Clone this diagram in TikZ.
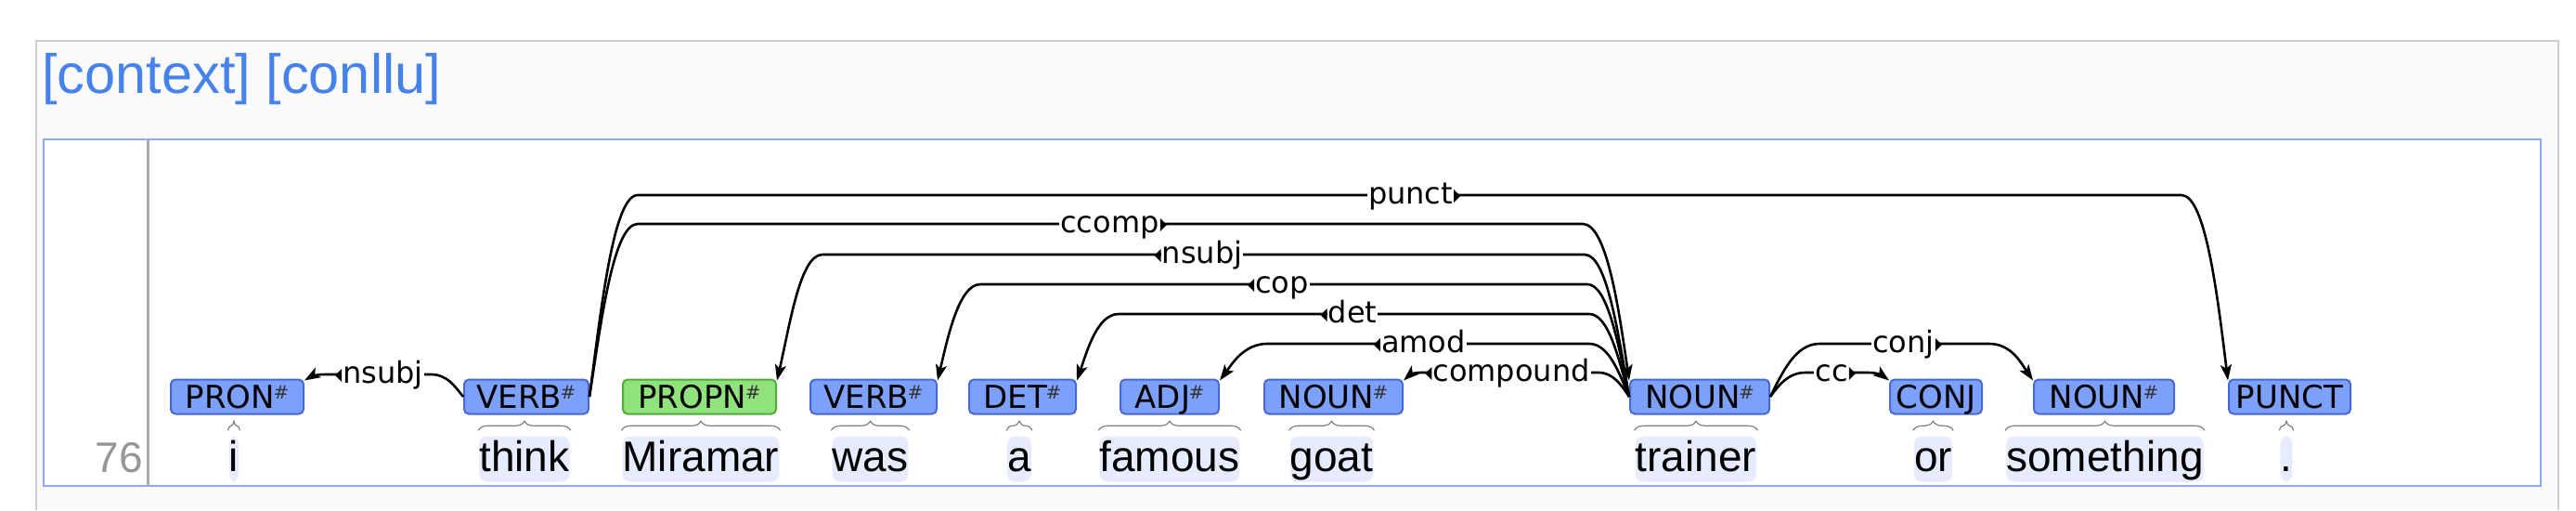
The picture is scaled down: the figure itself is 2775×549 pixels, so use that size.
\documentclass[tikz,border=0pt]{standalone}
\usepackage{fontspec}
\setmainfont{Liberation Sans}
\newfontfamily\tagfont{DejaVu Sans}
\usetikzlibrary{arrows.meta,decorations.pathreplacing}
\definecolor{tagfill}{RGB}{125,160,250}
\definecolor{tagdraw}{RGB}{70,105,215}
\definecolor{propnfill}{RGB}{143,226,124}
\definecolor{propndraw}{RGB}{80,170,60}
\definecolor{titleblue}{RGB}{70,130,235}
\definecolor{framegray}{RGB}{205,205,205}
\definecolor{frameblue}{RGB}{140,170,248}
\definecolor{wordbg}{RGB}{230,235,253}
\definecolor{numgray}{RGB}{150,150,150}
\newcommand\hsh{\kern-1.5pt{\fontsize{20}{20}\selectfont\raisebox{10pt}{\textcolor{black!80}{\#}}}}
\begin{document}
\begin{tikzpicture}[x=1pt,y=-1pt,
  tagbox/.style={draw=tagdraw, fill=tagfill, line width=2pt, rounded corners=5pt,
    minimum height=37pt, inner sep=0pt, text height=24pt, text depth=0pt,
    font=\tagfont\fontsize{34}{34}\selectfont},
  propnbox/.style={tagbox, draw=propndraw, fill=propnfill},
  word/.style={anchor=base, fill=wordbg, rounded corners=8pt, inner xsep=0pt,
    inner ysep=1.5pt, text height=36pt, text depth=10pt,
    font=\fontsize{46}{46}\selectfont},
  brc/.style={draw=black!50, line width=1.2pt, decorate, decoration={brace, amplitude=10pt}},
  arc/.style={draw=black, line width=2.6pt},
  arr/.style={arc, -{Stealth[length=17pt,width=12pt,inset=4pt]}},
  lab/.style={anchor=base, fill=white, inner xsep=1pt, inner ysep=2pt,
    text height=24pt, text depth=7pt, font=\tagfont\fontsize{32}{32}\selectfont},
  mk/.style={fill=black}
]
\useasboundingbox (0,0) rectangle (2775,549);
% frames
\fill[black!2] (39,44) rectangle (2756,549);
\draw[framegray, line width=1.5pt] (39,549) -- (39,44) -- (2756,44) -- (2756,549);
\node[anchor=base west, text=titleblue, font=\fontsize{59.5}{60}\selectfont, inner sep=0pt] (title) at (45,100) {[context] [conllu]};
\draw[frameblue, line width=2.5pt, fill=white] (47,150) rectangle (2737,523);
\draw[numgray!80, line width=3pt] (159,150) -- (159,523);
\node[anchor=base east, text=numgray, font=\fontsize{46}{46}\selectfont, inner sep=0pt] (num) at (154,508) {76};
% words
\node[word] (w1) at (252,507) {i};
\node[word] (w2) at (565,507) {think};
\node[word] (w3) at (755,507) {Miramar};
\node[word] (w4) at (937.5,507) {was};
\node[word] (w5) at (1098,507) {a};
\node[word] (w6) at (1260,507) {famous};
\node[word] (w7) at (1434.5,507) {goat};
\node[word] (w8) at (1827,507) {trainer};
\node[word] (w9) at (2082.5,507) {or};
\node[word] (w10) at (2267.5,507) {something};
\node[word] (w11) at (2463,507) {.};
\foreach \w in {w1,w2,w3,w4,w5,w6,w7,w8,w9,w10,w11}{
  \draw[brc] ([yshift=6pt,xshift=-1pt]\w.north west) -- ([yshift=6pt,xshift=1pt]\w.north east);
}
% tags
\node[tagbox, minimum width=143pt] (p1) at (255.5,427) {PRON\hsh};
\node[tagbox, minimum width=134pt] (v1) at (567,427) {VERB\hsh};
\node[propnbox, minimum width=165pt] (pn) at (753.5,427) {PROPN\hsh};
\node[tagbox, minimum width=136pt] (v2) at (941,427) {VERB\hsh};
\node[tagbox, minimum width=115pt] (dt) at (1101.5,427) {DET\hsh};
\node[tagbox, minimum width=106pt] (aj) at (1260,427) {ADJ\hsh};
\node[tagbox, minimum width=149pt] (n1) at (1436.5,427) {NOUN\hsh};
\node[tagbox, minimum width=150pt] (n2) at (1831,427) {NOUN\hsh};
\node[tagbox, minimum width=99pt] (cj) at (2085.5,427) {CONJ};
\node[tagbox, minimum width=151pt] (n3) at (2266.5,427) {NOUN\hsh};
\node[tagbox, minimum width=131pt] (pu) at (2466.5,427) {PUNCT};
% arcs
\draw[arr] (v1.east) .. controls (648,329) and (661,210) .. (687,210) -- (2350,210)
  .. controls (2376,210) and (2389,320) .. ([yshift=-2pt]pu.north west);
\draw[arr] (v1.east) .. controls (648,343) and (661,241) .. (687,241) -- (1705,241)
  .. controls (1731,241) and (1744,334) .. ([yshift=-2pt]n2.north west);
\draw[arr] (n2.west) .. controls (1743,358) and (1731,274) .. (1707,274) -- (886,274)
  .. controls (862,274) and (851,349) .. ([yshift=-2pt]pn.north east);
\draw[arr] (n2.west) .. controls (1744,373) and (1732,306) .. (1710,306) -- (1056,306)
  .. controls (1033,306) and (1021,363) .. ([yshift=-2pt]v2.north east);
\draw[arr] (n2.west) .. controls (1744,387) and (1733,338) .. (1712,338) -- (1205,338)
  .. controls (1182,338) and (1171,378) .. ([yshift=-2pt]dt.north east);
\draw[arr] (n2.west) .. controls (1744,401) and (1733,370) .. (1712,370) -- (1365,370)
  .. controls (1340,370) and (1327,392) .. ([yshift=-2pt]aj.north east);
\draw[arr] (n2.west) .. controls (1747,415) and (1738,401) .. (1722,401) -- (1530,401)
  .. controls (1521,401) and (1517,405) .. ([yshift=-2pt]n1.north east);
\draw[arr] (v1.west) .. controls (490,416) and (482,403) .. (464,403) -- (350,403)
  .. controls (339,403) and (334,406) .. ([yshift=-2pt]p1.north east);
\draw[arr] (n2.east) .. controls (1920,401) and (1934,370) .. (1960,370) -- (2143,370)
  .. controls (2167,370) and (2178,392) .. ([yshift=-2pt]n3.north west);
\draw[arr] (n2.east) .. controls (1916,415) and (1926,401) .. (1945,401) -- (2012,401)
  .. controls (2024,401) and (2029,405) .. ([yshift=-2pt]cj.north west);
% labels
\node[lab] (l1) at (1519.5,219.5) {punct};
\node[lab] (l2) at (1195.5,250.5) {ccomp};
\node[lab] (l3) at (1295,283.5) {nsubj};
\node[lab] (l4) at (1381,315.5) {cop};
\node[lab] (l5) at (1457,347.5) {det};
\node[lab] (l6) at (1533.5,379.5) {amod};
\node[lab] (l7) at (1628,410.5) {compound};
\node[lab] (l8) at (412.5,412.5) {nsubj};
\node[lab] (l9) at (2050.5,379.5) {conj};
\node[lab] (l10) at (1973,410.5) {cc};
% direction markers
\foreach \l in {l1,l2,l9,l10}{
  \fill[mk] (\l.east) -- ++(0,-7) -- ++(7,7) -- ++(-7,7) -- cycle;
}
\foreach \l in {l3,l4,l5,l6,l7,l8}{
  \fill[mk] (\l.west) -- ++(0,-7) -- ++(-7,7) -- ++(7,7) -- cycle;
}
\end{tikzpicture}
\end{document}
